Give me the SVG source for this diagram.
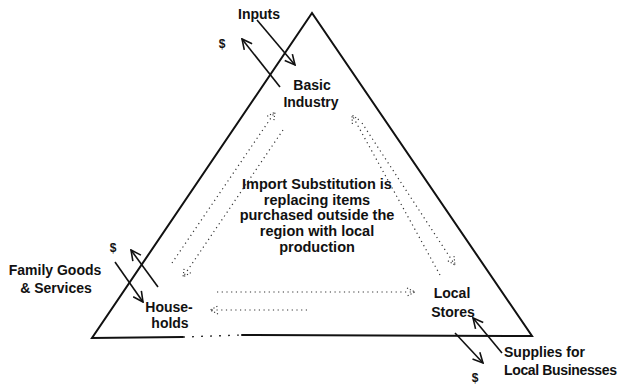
<svg xmlns="http://www.w3.org/2000/svg" width="618" height="384" viewBox="0 0 618 384">
<style>
text{font-family:"Liberation Sans",Arial,sans-serif;font-weight:bold;font-size:14px;fill:#111}
.c{text-anchor:middle}
.n{font-size:14.5px}
.d{font-size:12px}
.edge{stroke:#111;stroke-width:2;fill:none;stroke-linecap:round}
.arr{stroke:#111;stroke-width:1.6;fill:none;marker-end:url(#ah)}
.dot{stroke:#333;stroke-width:1.2;fill:none;stroke-dasharray:1.2 3.5;marker-end:url(#dh)}
</style>
<defs>
<marker id="ah" viewBox="0 0 12 12" refX="11" refY="6" markerWidth="12" markerHeight="12" markerUnits="userSpaceOnUse" orient="auto">
<path d="M1,1 L11,6 L1,11" fill="none" stroke="#111" stroke-width="1.6"/>
</marker>
<marker id="dh" viewBox="0 0 10 10" refX="9" refY="5" markerWidth="10" markerHeight="10" markerUnits="userSpaceOnUse" orient="auto">
<path d="M1,1 L9,5 L1,9" fill="none" stroke="#333" stroke-width="1.1" stroke-dasharray="1.2 2"/>
</marker>
</defs>
<g id="triangle">
<path class="edge" d="M183,337 L92,338 L312,13 L532,336 L242,335"/>
<path d="M183,337 L242,335" stroke="#333" stroke-width="1.4" stroke-dasharray="2 7" fill="none"/>
</g>
<g id="connectors">
<line class="arr" x1="257" y1="20" x2="295" y2="65"/>
<line class="arr" x1="280" y1="87" x2="242" y2="39"/>
<line class="arr" x1="115" y1="262" x2="143" y2="302"/>
<line class="arr" x1="158" y1="287" x2="131" y2="250"/>
<line class="arr" x1="502" y1="353" x2="473" y2="318"/>
<line class="arr" x1="455" y1="333" x2="483" y2="363"/>
<line class="dot" x1="172" y1="263" x2="275" y2="112"/>
<line class="dot" x1="283" y1="130" x2="183" y2="277"/>
<line class="dot" x1="440" y1="275" x2="352" y2="115"/>
<line class="dot" x1="362" y1="123" x2="455" y2="265"/>
<line class="dot" x1="217" y1="292" x2="415" y2="292"/>
<line class="dot" x1="307" y1="310" x2="210" y2="310"/>
</g>
<g id="basic-industry">
<text class="c" x="312" y="90">Basic</text>
<text class="c" x="311" y="107">Industry</text>
</g>
<g id="households">
<text class="c" x="169" y="312">House-</text>
<text class="c" x="170" y="328">holds</text>
</g>
<g id="local-stores">
<text class="c" x="452" y="298">Local</text>
<text class="c" x="453" y="317">Stores</text>
</g>
<g id="inputs">
<text class="c" x="259" y="19">Inputs</text>
<text class="c d" x="222" y="48">$</text>
</g>
<g id="family-goods">
<text class="c" x="55" y="275">Family Goods</text>
<text class="c" x="56" y="293">&amp; Services</text>
<text class="c d" x="113" y="252">$</text>
</g>
<g id="supplies">
<text x="504" y="357">Supplies for</text>
<text x="504" y="375" textLength="113">Local Businesses</text>
<text class="c d" x="475" y="382">$</text>
</g>
<g id="note">
<text class="c n" x="317" y="189">Import Substitution is</text>
<text class="c n" x="317" y="205">replacing items</text>
<text class="c n" x="317" y="220">purchased outside the</text>
<text class="c n" x="317" y="236">region with local</text>
<text class="c n" x="317" y="252">production</text>
</g>
</svg>
